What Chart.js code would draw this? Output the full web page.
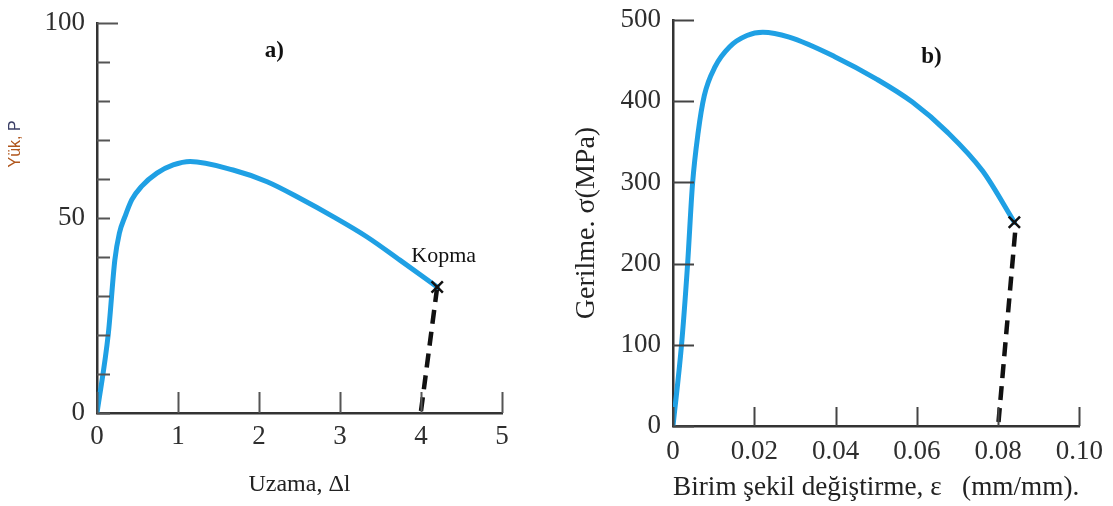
<!DOCTYPE html>
<html>
<head>
<meta charset="utf-8">
<script src="https://cdn.jsdelivr.net/npm/chart.js@4.4.1/dist/chart.umd.min.js"></script>
<style>
  html, body { margin: 0; padding: 0; background: #fff; }
  #wrapA { position: absolute; left: 0; top: 0; width: 556px; height: 506px; }
  #wrapB { position: absolute; left: 556px; top: 0; width: 557px; height: 506px; }
</style>
</head>
<body>
<div id="wrapA"><canvas id="chartA" width="556" height="506"></canvas></div>
<div id="wrapB"><canvas id="chartB" width="557" height="506"></canvas></div>
<script>
// a) load - elongation
const elongA = [0, 0.14, 0.22, 0.276, 0.346, 0.43, 0.55, 0.74, 0.94, 1.15, 1.68, 2.1, 2.51, 2.92, 3.33, 3.74, 4.2];
const loadA  = [0, 20.4, 39.2, 46.1, 50.4, 54.7, 58.1, 61.5, 63.6, 64.5, 62.3, 59.3, 55.0, 50.3, 45.2, 39.2, 32.3];
const breakElongA = [4.0, 4.2];
const breakLoadA  = [0.5, 32.3];
const yLabelsA = [0, 50, 100];

// b) stress - strain
const strainB = [0, 0.0021, 0.0036, 0.0048, 0.0062, 0.0077, 0.0104, 0.0139, 0.0182, 0.0221, 0.0286, 0.0398, 0.0502, 0.0589, 0.0675, 0.0762, 0.0840];
const stressB = [0, 100, 200, 298, 362, 407, 443, 467, 481, 485, 479, 455, 427, 399, 362, 314, 251];
const breakStrainB = [0.0801, 0.0843];
const breakStressB = [5, 245];
const xLabelsB = ['0', '0.02', '0.04', '0.06', '0.08', '0.10'];

const blue = '#1fa0e4';
const serif = "'Liberation Serif', 'Times New Roman', serif";
const pts = (xs, ys) => xs.map((x, i) => ({ x: x, y: ys[i] }));

// ticks drawn inside the plot area, like the printed figure
const innerTicks = {
  id: 'innerTicks',
  afterDatasetsDraw(chart, args, o) {
    const ctx = chart.ctx, xs = chart.scales.x, ys = chart.scales.y, a = chart.chartArea;
    ctx.save();
    ctx.strokeStyle = o.color;
    ctx.lineWidth = o.width;
    ctx.beginPath();
    xs.ticks.forEach(t => {
      const px = Math.round(xs.getPixelForValue(t.value)) + 0.5;
      ctx.moveTo(px, a.bottom);
      ctx.lineTo(px, a.bottom - o.xLen);
    });
    ys.ticks.forEach((t, i) => {
      const py = Math.round(ys.getPixelForValue(t.value)) + 0.5;
      const len = i === ys.ticks.length - 1 ? o.yLastLen : o.yLen;
      ctx.moveTo(a.left, py);
      ctx.lineTo(a.left + len, py);
    });
    ctx.stroke();
    ctx.restore();
  }
};

// free text placed in data coordinates
const notes = {
  id: 'notes',
  afterDraw(chart, args, o) {
    const ctx = chart.ctx, xs = chart.scales.x, ys = chart.scales.y;
    ctx.save();
    ctx.textAlign = 'center';
    ctx.textBaseline = 'middle';
    (o.items || []).forEach(n => {
      ctx.font = n.font;
      ctx.fillStyle = n.color || '#111';
      ctx.fillText(n.text, xs.getPixelForValue(n.x), ys.getPixelForValue(n.y));
    });
    if (o.yTitle) {
      const t = o.yTitle;
      ctx.translate(ys.left + t.dx, ys.getPixelForValue(t.y));
      ctx.rotate(-Math.PI / 2);
      ctx.font = t.font;
      ctx.textAlign = 'left';
      const w1 = ctx.measureText(t.parts[0]).width;
      const w2 = ctx.measureText(t.parts[1]).width;
      const x0 = -(w1 + w2) / 2;
      ctx.fillStyle = t.colors[0];
      ctx.fillText(t.parts[0], x0, 0);
      ctx.fillStyle = t.colors[1];
      ctx.fillText(t.parts[1], x0 + w1, 0);
    }
    ctx.restore();
  }
};

function axisBase(size) {
  return {
    type: 'linear',
    grid: { display: false, drawTicks: false },
    border: { display: true, color: '#333', width: 2.5 },
    ticks: { color: '#2e2e2e', font: { family: serif, size: size, lineHeight: 0.6 } }
  };
}

// ---- chart a ----
const xA = axisBase(27);
Object.assign(xA, {
  min: 0, max: 5,
  afterFit(s) { s.height = 93; },
  title: { display: true, text: 'Uzama, \u0394l', color: '#222', font: { family: serif, size: 24 }, padding: { top: 0, bottom: 7 } }
});
xA.ticks.font.lineHeight = 1.2;
Object.assign(xA.ticks, { stepSize: 1, padding: 8, maxRotation: 0 });

const yA = axisBase(27);
Object.assign(yA, {
  min: 0, max: 100,
  afterFit(s) { s.width = 97; }
});
Object.assign(yA.ticks, {
  stepSize: 10, padding: 12, autoSkip: false,
  callback: v => yLabelsA.includes(v) ? String(v) : ''
});

new Chart(document.getElementById('chartA'), {
  type: 'scatter',
  data: {
    datasets: [
      { data: [pts(elongA, loadA)[elongA.length - 1]], pointStyle: 'crossRot', pointRadius: 8, borderColor: '#111', borderWidth: 2.5, showLine: false },
      { data: pts(elongA, loadA), showLine: true, borderColor: blue, borderWidth: 5, pointRadius: 0, cubicInterpolationMode: 'monotone', borderCapStyle: 'round' },
      { data: pts(breakElongA, breakLoadA), showLine: true, borderColor: '#111', borderWidth: 4.5, borderDash: [14, 8], pointRadius: 0 }
    ]
  },
  options: {
    responsive: false, animation: false, devicePixelRatio: 1,
    layout: { padding: { left: 0, right: 54, top: 23, bottom: 0 } },
    scales: { x: xA, y: yA },
    plugins: {
      legend: { display: false }, tooltip: { enabled: false },
      innerTicks: { color: '#555', width: 2, xLen: 21, yLen: 13, yLastLen: 21 },
      notes: {
        items: [
          { text: 'a)', x: 2.19, y: 92.8, font: 'bold 23px ' + serif, color: '#111' },
          { text: 'Kopma', x: 4.28, y: 40.3, font: '22px ' + serif, color: '#111' }
        ],
        yTitle: { parts: ['Y\u00fck,', ' P'], colors: ['#b0561c', '#3b3f66'], font: '16px "Liberation Sans", Arial, sans-serif', dx: 16, y: 69 }
      }
    }
  },
  plugins: [innerTicks, notes]
});

// ---- chart b ----
const xB = axisBase(27);
Object.assign(xB, {
  min: 0, max: 0.1,
  afterFit(s) { s.height = 80; },
  title: { display: true, text: 'Birim \u015fekil de\u011fi\u015ftirme, \u03b5   (mm/mm).', color: '#222', font: { family: serif, size: 28 }, padding: { top: 0, bottom: 2 } }
});
xB.ticks.font.lineHeight = 1.2;
Object.assign(xB.ticks, { stepSize: 0.02, padding: 10, maxRotation: 0, autoSkip: false, callback: (v, i) => xLabelsB[i] });

const yB = axisBase(27);
Object.assign(yB, {
  min: 0, max: 500,
  afterFit(s) { s.width = 117; },
  title: { display: true, text: 'Gerilme. \u03c3(MPa)', color: '#222', font: { family: serif, size: 28 }, padding: { top: 14, bottom: 0 } }
});
Object.assign(yB.ticks, { stepSize: 100, padding: 12 });

new Chart(document.getElementById('chartB'), {
  type: 'scatter',
  data: {
    datasets: [
      { data: [pts(strainB, stressB)[strainB.length - 1]], pointStyle: 'crossRot', pointRadius: 8, borderColor: '#111', borderWidth: 2.5, showLine: false },
      { data: pts(strainB, stressB), showLine: true, borderColor: blue, borderWidth: 5, pointRadius: 0, cubicInterpolationMode: 'monotone', borderCapStyle: 'round' },
      { data: pts(breakStrainB, breakStressB), showLine: true, borderColor: '#111', borderWidth: 4.5, borderDash: [14, 8], pointRadius: 0 }
    ]
  },
  options: {
    responsive: false, animation: false, devicePixelRatio: 1,
    layout: { padding: { left: 0, right: 30, top: 13, bottom: 0 } },
    scales: { x: xB, y: yB },
    plugins: {
      legend: { display: false }, tooltip: { enabled: false },
      innerTicks: { color: '#444', width: 2, xLen: 19, yLen: 21, yLastLen: 21 },
      notes: {
        items: [
          { text: 'b)', x: 0.0636, y: 455, font: 'bold 23px ' + serif, color: '#111' }
        ]
      }
    }
  },
  plugins: [innerTicks, notes]
});
</script>
</body>
</html>
